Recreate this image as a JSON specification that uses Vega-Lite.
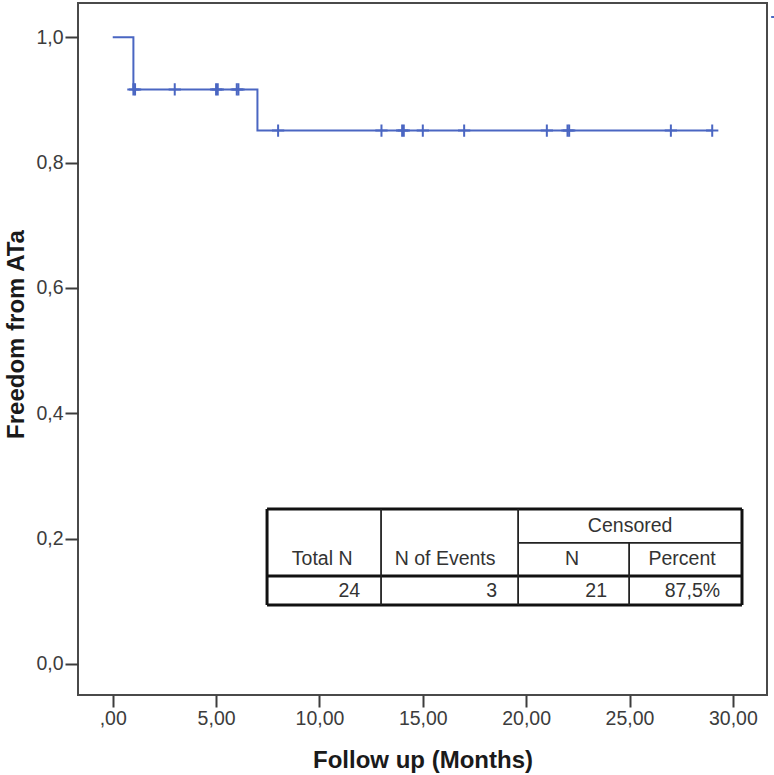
{
  "$schema": "https://vega.github.io/schema/vega-lite/v6.json",
  "width": 689,
  "height": 692,
  "autosize": {"type": "none"},
  "padding": {"left": 78, "top": 3, "right": 7, "bottom": 80},
  "background": "white",
  "config": {
    "view": {"stroke": "#4a4a4a", "strokeWidth": 2},
    "font": "Liberation Sans"
  },
  "encoding": {
    "x": {
      "field": "x", "type": "quantitative",
      "scale": {"domain": [-1.68, 31.65], "nice": false, "zero": false},
      "axis": {
        "title": "Follow up (Months)",
        "values": [0, 5, 10, 15, 20, 25, 30],
        "labelExpr": "datum.value == 0 ? ',00' : replace(format(datum.value, '.2f'), '.', ',')",
        "grid": false, "domain": false,
        "tickSize": 12, "tickWidth": 2, "tickColor": "#3c3c3c",
        "labelFont": "Liberation Sans", "labelFontSize": 19.5, "labelColor": "#3c3c3c", "labelPadding": 2,
        "titleFont": "Liberation Sans", "titleFontSize": 24, "titleFontWeight": "bold", "titleColor": "#1a1a1a",
        "titleBaseline": "alphabetic", "titleY": 72
      }
    },
    "y": {
      "field": "y", "type": "quantitative",
      "scale": {"domain": [-0.0495, 1.0547], "nice": false, "zero": false},
      "axis": {
        "title": "Freedom from ATa",
        "values": [0, 0.2, 0.4, 0.6, 0.8, 1.0],
        "labelExpr": "replace(format(datum.value, '.1f'), '.', ',')",
        "grid": false, "domain": false,
        "tickSize": 13, "tickWidth": 2, "tickColor": "#3c3c3c",
        "labelFont": "Liberation Sans", "labelFontSize": 19.5, "labelColor": "#3c3c3c", "labelPadding": 2,
        "titleFont": "Liberation Sans", "titleFontSize": 24, "titleFontWeight": "bold", "titleColor": "#1a1a1a",
        "titleBaseline": "alphabetic", "titleX": -55, "titleY": 331
      }
    }
  },
  "layer": [
    {
      "data": {"values": [
        {"x": 0, "y": 1.0},
        {"x": 1, "y": 0.9167},
        {"x": 7, "y": 0.8512},
        {"x": 29, "y": 0.8512}
      ]},
      "mark": {"type": "line", "interpolate": "step-after", "color": "#4a66c2", "strokeWidth": 2}
    },
    {
      "data": {"values": [
        {"x": 31.85, "y": 1.0324},
        {"x": 32.2, "y": 1.0324}
      ]},
      "mark": {"type": "line", "color": "#4a66c2", "strokeWidth": 2, "clip": false}
    },
    {
      "data": {"values": [
        {"x": 1, "y": 0.9167}, {"x": 1.08, "y": 0.9167},
        {"x": 3, "y": 0.9167},
        {"x": 5, "y": 0.9167}, {"x": 5.08, "y": 0.9167},
        {"x": 6, "y": 0.9167}, {"x": 6.08, "y": 0.9167},
        {"x": 8, "y": 0.8512},
        {"x": 13, "y": 0.8512},
        {"x": 14, "y": 0.8512}, {"x": 14.08, "y": 0.8512},
        {"x": 15, "y": 0.8512},
        {"x": 17, "y": 0.8512},
        {"x": 21, "y": 0.8512},
        {"x": 22, "y": 0.8512}, {"x": 22.08, "y": 0.8512},
        {"x": 27, "y": 0.8512},
        {"x": 29, "y": 0.8512}
      ]},
      "mark": {"type": "point", "shape": "M-1,0L1,0M0,-1L0,1", "filled": false, "stroke": "#4a66c2", "strokeWidth": 2, "size": 150, "opacity": 1}
    },
    {
      "data": {"values": [
        {"x": 7.465, "y": 0.2473, "x2": 30.44, "y2": 0.2473},
        {"x": 7.465, "y": 0.0941, "x2": 30.44, "y2": 0.0941},
        {"x": 7.465, "y": 0.0941, "x2": 7.465, "y2": 0.2473},
        {"x": 30.44, "y": 0.0941, "x2": 30.44, "y2": 0.2473},
        {"x": 7.465, "y": 0.1404, "x2": 30.44, "y2": 0.1404}
      ]},
      "mark": {"type": "rule", "color": "#111111", "strokeWidth": 3},
      "encoding": {"x2": {"field": "x2"}, "y2": {"field": "y2"}}
    },
    {
      "data": {"values": [
        {"x": 12.98, "y": 0.0941, "x2": 12.98, "y2": 0.2473},
        {"x": 19.61, "y": 0.0941, "x2": 19.61, "y2": 0.2473},
        {"x": 24.98, "y": 0.0941, "x2": 24.98, "y2": 0.1931},
        {"x": 19.61, "y": 0.1931, "x2": 30.44, "y2": 0.1931}
      ]},
      "mark": {"type": "rule", "color": "#222222", "strokeWidth": 1.8},
      "encoding": {"x2": {"field": "x2"}, "y2": {"field": "y2"}}
    },
    {
      "data": {"values": [
        {"x": 25.03, "y": 0.2106, "label": "Censored"},
        {"x": 10.13, "y": 0.158, "label": "Total N"},
        {"x": 16.08, "y": 0.158, "label": "N of Events"},
        {"x": 22.22, "y": 0.158, "label": "N"},
        {"x": 27.54, "y": 0.158, "label": "Percent"}
      ]},
      "mark": {"type": "text", "align": "center", "baseline": "alphabetic", "font": "Liberation Sans", "fontSize": 19.5, "color": "#333333"},
      "encoding": {"text": {"field": "label"}}
    },
    {
      "data": {"values": [
        {"x": 11.97, "y": 0.1069, "label": "24"},
        {"x": 18.59, "y": 0.1069, "label": "3"},
        {"x": 23.91, "y": 0.1069, "label": "21"},
        {"x": 29.38, "y": 0.1069, "label": "87,5%"}
      ]},
      "mark": {"type": "text", "align": "right", "baseline": "alphabetic", "font": "Liberation Sans", "fontSize": 19.5, "color": "#333333"},
      "encoding": {"text": {"field": "label"}}
    }
  ]
}
